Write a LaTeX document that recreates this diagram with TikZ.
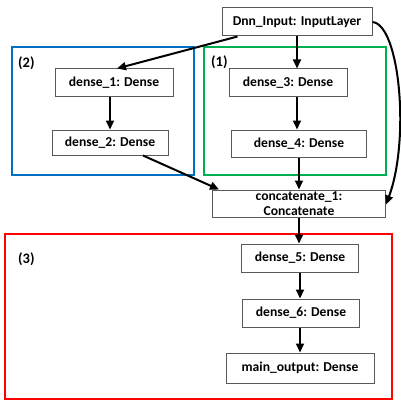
\documentclass[tikz,border=0pt]{standalone}
\usepackage{fontspec}
\setmainfont{Carlito}
\usetikzlibrary{arrows.meta}

\definecolor{grpblue}{RGB}{0,112,192}
\definecolor{grpgreen}{RGB}{0,176,80}
\definecolor{grpred}{RGB}{255,0,0}

\tikzset{
	layer/.style={draw=black!65,line width=1pt,fill=white,inner sep=0pt,
		font=\fontsize{13.6}{14.5}\selectfont\bfseries,align=center},
	group/.style={line width=2pt},
	grouplabel/.style={anchor=west,inner sep=0pt,font=\fontsize{14.5}{15}\selectfont\bfseries},
	flow/.style={line width=2pt,-{Triangle[length=9pt,width=8pt]}}
}

\begin{document}
\begin{tikzpicture}[x=1pt,y=-1pt]
	\useasboundingbox (0,0) rectangle (400,401);
	% groups
	\draw[group,grpblue] (12,47) rectangle (194,175);
	\draw[group,grpgreen] (204,47) rectangle (386,175);
	\draw[group,grpred] (5,234) rectangle (392,399);
	\node[grouplabel] (lab2) at (18,63) {(2)};
	\node[grouplabel] (lab1) at (211,62) {(1)};
	\node[grouplabel] (lab3) at (18,259) {(3)};
	% layers
	\node[layer,minimum width=150pt,minimum height=28pt] (input) at (297,22) {Dnn\_Input: InputLayer};
	\node[layer,minimum width=118pt,minimum height=28pt] (dense1) at (114,83) {dense\_1: Dense};
	\node[layer,minimum width=116pt,minimum height=25pt] (dense2) at (110,142.5) {dense\_2: Dense};
	\node[layer,minimum width=118pt,minimum height=28pt] (dense3) at (288,83) {dense\_3: Dense};
	\node[layer,minimum width=135pt,minimum height=27pt] (dense4) at (299,143.5) {dense\_4: Dense};
	\node[layer,minimum width=173pt,minimum height=27pt] (concat) at (299,203.5) {concatenate\_1:\\Concatenate};
	\node[layer,minimum width=117pt,minimum height=28pt] (dense5) at (300,258) {dense\_5: Dense};
	\node[layer,minimum width=117pt,minimum height=28pt] (dense6) at (301,313) {dense\_6: Dense};
	\node[layer,minimum width=148pt,minimum height=30pt] (mainout) at (300,368) {main\_output: Dense};
	% connections
	\draw[flow] ([xshift=16pt]input.south west) -- ([xshift=3pt]dense1.north);
	\draw[flow] (input.south) -- (input.south |- dense3.north);
	\draw[flow] (dense2.north |- dense1.south) -- (dense2.north);
	\draw[flow] ([xshift=9pt]dense3.south) -- ([xshift=9pt]dense3.south |- dense4.north);
	\draw[flow] ([xshift=33pt]dense2.south) -- ([xshift=7pt]concat.north west);
	\draw[flow] (dense4.south) -- (dense4.south |- concat.north);
	\draw[flow] (input.east) .. controls (400,25) and (410,140) .. ([yshift=-1pt]concat.east);
	\draw[flow] (concat.south) -- (concat.south |- dense5.north);
	\draw[flow] (dense5.south) -- (dense5.south |- dense6.north);
	\draw[flow] (dense5.south |- dense6.south) -- (dense5.south |- mainout.north);
\end{tikzpicture}
\end{document}
